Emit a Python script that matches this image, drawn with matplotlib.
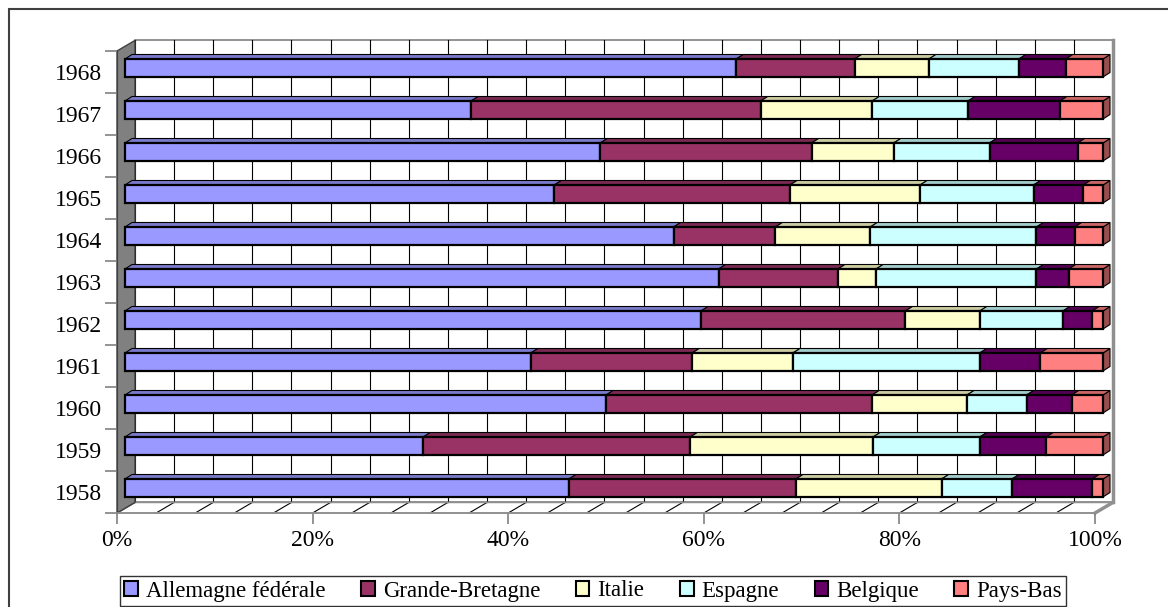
import numpy as np
import matplotlib.pyplot as plt
from matplotlib.patches import Polygon, Rectangle, Patch

# share of each country per year (%)
years = ['1958', '1959', '1960', '1961', '1962', '1963', '1964', '1965', '1966', '1967', '1968']
allemagne = [45.4, 30.5, 49.2, 41.5, 58.9, 60.7, 56.1, 43.9, 48.6, 35.4, 62.5]
grande_bretagne = [23.2, 27.3, 27.2, 16.5, 20.9, 12.2, 10.4, 24.1, 21.6, 29.6, 12.1]
italie = [14.9, 18.7, 9.7, 10.3, 7.6, 3.9, 9.7, 13.3, 8.4, 11.4, 7.6]
espagne = [7.2, 10.9, 6.1, 19.1, 8.5, 16.4, 17.0, 11.6, 9.8, 9.8, 9.2]
belgique = [8.2, 6.8, 4.6, 6.2, 3.0, 3.3, 3.9, 5.1, 9.0, 9.4, 4.8]
pays_bas = [1.1, 5.8, 3.2, 6.4, 1.1, 3.5, 2.9, 2.0, 2.6, 4.4, 3.8]

countries = ['Allemagne fédérale', 'Grande-Bretagne', 'Italie', 'Espagne', 'Belgique', 'Pays-Bas']
colors = ['#9999FF', '#993366', '#FFFFCC', '#CCFFFF', '#660066', '#FF8080']

plt.rcParams['font.family'] = ['Liberation Serif', 'DejaVu Serif']

W, H = 1168, 607
fig = plt.figure(figsize=(W / 100, H / 100), dpi=100)

# front plane of the 3d box, in pixels
L, R, T, B = 117, 1095, 51, 513
ax = fig.add_axes([L / W, 1 - B / H, (R - L) / W, (B - T) / H])
n = len(years)
ax.set_xlim(0, 100)
ax.set_ylim(-0.5, n - 0.5)
ax.patch.set_visible(False)

ux = 100 / (R - L)
uy = n / (B - T)
wdx, wdy = 18 * ux, 10.6 * uy   # depth of the walls
fdx, fdy = 8 * ux, 4 * uy       # bar front face
bdx, bdy = 15 * ux, 8.5 * uy    # bar back face
ddx, ddy = bdx - fdx, bdy - fdy
bar_h = 18 * uy

# back wall + gridlines
ax.add_patch(Rectangle((wdx, -0.5 + wdy), 100, n, fc='white', ec='#808080',
                       lw=1.2, clip_on=False, zorder=0))
for p in range(0, 101, 4):
    ax.plot([p + wdx, p + wdx], [-0.5 + wdy, n - 0.5 + wdy], color='black',
            lw=0.8, clip_on=False, zorder=1)
    ax.plot([p, p + wdx], [-0.5, -0.5 + wdy], color='black', lw=0.8,
            clip_on=False, zorder=1)
ax.plot([100 + wdx] * 2, [-0.5 + wdy, n - 0.5 + wdy], color='#909090', lw=2.5,
        clip_on=False, zorder=1)

# floor
ax.add_patch(Polygon([(0, -0.5), (100, -0.5), (100 + wdx, -0.5 + wdy), (wdx, -0.5 + wdy)],
                     closed=True, fill=False, ec='#909090', lw=1.2, clip_on=False, zorder=1))
ax.plot([100, 100 + wdx], [-0.5, -0.5 + wdy], color='#909090', lw=2.5,
        clip_on=False, zorder=1)

# left wall
ax.add_patch(Polygon([(0, -0.5), (0, n - 0.5), (wdx, n - 0.5 + wdy), (wdx, -0.5 + wdy)],
                     closed=True, fc='#808080', ec='#404040', lw=1, clip_on=False, zorder=1))


def shade(c, k):
    r, g, b = plt.matplotlib.colors.to_rgb(c)
    return (r * k, g * k, b * k)


series = [allemagne, grande_bretagne, italie, espagne, belgique, pays_bas]
ypos = np.arange(n)
lefts = np.zeros(n)
for j, (vals, c) in enumerate(zip(series, colors)):
    vals = np.array(vals)
    z = 3 + 3 * j
    for i in range(n):
        x0 = lefts[i] + fdx
        x1 = lefts[i] + vals[i] + fdx
        yb = ypos[i] + fdy - bar_h / 2
        yt = ypos[i] + fdy + bar_h / 2
        ax.add_patch(Polygon([(x1, yb), (x1, yt), (x1 + ddx, yt + ddy), (x1 + ddx, yb + ddy)],
                             closed=True, fc=shade(c, 0.6), ec='black', lw=0.8,
                             clip_on=False, zorder=z))
        ax.add_patch(Polygon([(x0, yt), (x1, yt), (x1 + ddx, yt + ddy), (x0 + ddx, yt + ddy)],
                             closed=True, fc=shade(c, 0.8), ec='black', lw=0.8,
                             clip_on=False, zorder=z))
    ax.barh(ypos + fdy, vals, left=lefts + fdx, height=bar_h, color=c,
            edgecolor='black', lw=1.6, zorder=z + 1, clip_on=False)
    lefts += vals

# axes, ticks
for s in ['top', 'right']:
    ax.spines[s].set_visible(False)
ax.spines['left'].set_color('#404040')
ax.spines['bottom'].set_color('#909090')
ax.spines['bottom'].set_linewidth(1.2)
ax.set_yticks(ypos)
ax.set_yticklabels(years, fontsize=17)
ax.set_yticks(np.arange(-0.5, n), minor=True)
ax.tick_params(axis='y', which='major', length=0, pad=11)
ax.tick_params(axis='y', which='minor', length=9, color='#808080', width=1.2)
ax.set_xticks(range(0, 101, 20))
ax.set_xticklabels([f'{p}%' for p in range(0, 101, 20)], fontsize=17)
ax.tick_params(axis='x', length=8, color='#808080', width=1.2, pad=4)

# outer frame
fig.patches.append(Rectangle((9 / W, -0.05), 1.1, 1 - 9 / H + 0.05, transform=fig.transFigure,
                             fill=False, ec='#404040', lw=1.5))

handles = [Patch(fc=c, ec='black', lw=1.5) for c in colors]
leg = fig.legend(handles, countries, loc='center', bbox_to_anchor=((113 + 1073) / 2 / W, 1 - 591 / H),
                 ncol=6, fontsize=16.5, frameon=True, fancybox=False, edgecolor='black',
                 handlelength=0.6, handleheight=0.6, handletextpad=0.35, columnspacing=1.55,
                 borderpad=0.2, borderaxespad=0)
leg.get_frame().set_linewidth(1.0)

fig.savefig('out.png', dpi=100)
